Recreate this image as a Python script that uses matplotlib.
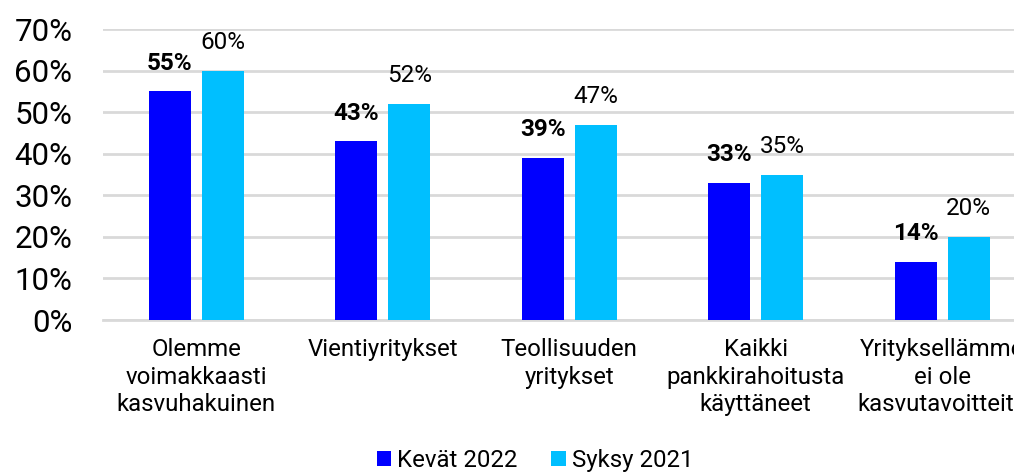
import matplotlib.pyplot as plt
import numpy as np

categories = [
    'Olemme\nvoimakkaasti\nkasvuhakuinen',
    'Vientiyritykset',
    'Teollisuuden\nyritykset',
    'Kaikki\npankkirahoitusta\nkäyttäneet',
    'Yrityksellämme\nei ole\nkasvutavoitteita',
]
kevat_2022 = [55, 43, 39, 33, 14]
syksy_2021 = [60, 52, 47, 35, 20]
yticks = [0, 10, 20, 30, 40, 50, 60, 70]

plt.rcParams['font.family'] = ['Roboto', 'DejaVu Sans']

fig = plt.figure(figsize=(10.14, 4.72), dpi=100)
ax = fig.add_axes([103 / 1014, 1 - 320 / 472, 932.5 / 1014, 291 / 472])

x = np.arange(len(categories))
w = 0.225
gap = 0.059
b1 = ax.bar(x - (w + gap) / 2, kevat_2022, w, color='#0000FF', label='Kevät 2022', zorder=3)
b2 = ax.bar(x + (w + gap) / 2, syksy_2021, w, color='#00BFFF', label='Syksy 2021', zorder=3)

ax.bar_label(b1, labels=[f'{v}%' for v in kevat_2022], padding=12,
             fontsize=17.5, fontweight='bold', color='#000000')
ax.bar_label(b2, labels=[f'{v}%' for v in syksy_2021], padding=12,
             fontsize=17.5, color='#000000')

ax.set_xlim(-0.5, len(categories) - 0.5)
ax.set_ylim(0, 70)
ax.set_yticks(yticks)
ax.set_yticklabels([f'{v}%' for v in yticks], fontsize=22.5)
ax.set_xticks(x)
ax.set_xticklabels(categories, fontsize=17.3, linespacing=1.25)
ax.tick_params(axis='both', length=0, colors='#000000')
ax.tick_params(axis='x', pad=13)
ax.tick_params(axis='y', pad=22)

ax.grid(axis='y', color='#D9D9D9', linewidth=2, zorder=0)
for s in ['top', 'right', 'left']:
    ax.spines[s].set_visible(False)
ax.spines['bottom'].set_color('#D9D9D9')
ax.spines['bottom'].set_linewidth(2)

fig.legend(loc='lower center', bbox_to_anchor=(535 / 1014, -0.045), ncol=2,
           frameon=False, fontsize=17.3, handlelength=0.6, handleheight=0.6,
           handletextpad=0.25, columnspacing=1.4)

fig.savefig('out.png', dpi=100)
